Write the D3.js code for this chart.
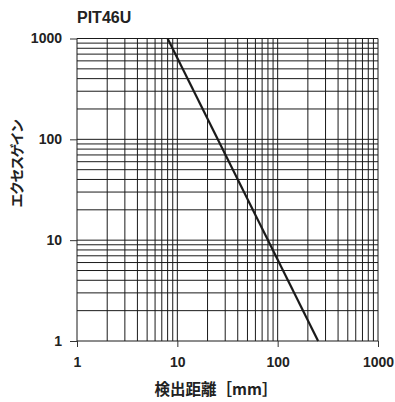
<!DOCTYPE html>
<html>
<head>
<meta charset="utf-8">
<script src="https://cdn.jsdelivr.net/npm/d3@7"></script>
<style>
  body { margin: 0; background: #fff; }
  text { font-family: "Liberation Sans", Arial, sans-serif; fill: #222; }
  .jp { font-family: "Noto Sans CJK JP", sans-serif; }
</style>
</head>
<body>
<svg width="395" height="402"></svg>
<script>
// chart data
var title = "PIT46U";
var xLabel = "検出距離［mm］";
var yLabel = "エクセスゲイン";
var majorTicks = [1, 10, 100, 1000];
var distance = [8, 253];      // mm
var excessGain = [1000, 1];

var svg = d3.select("svg");
var plotLeft = 77, plotRight = 378, plotTop = 38.5, plotBottom = 341;

var x = d3.scaleLog().domain([1, 1000]).range([plotLeft, plotRight]);
var y = d3.scaleLog().domain([1, 1000]).range([plotBottom, plotTop]);

// grid values 1..9 in each decade
var gridVals = [];
for (var d = 1; d < 1000; d *= 10) {
  for (var k = 1; k < 10; k++) gridVals.push(d * k);
}
gridVals.push(1000);

var grid = svg.append("g").attr("stroke", "#1a1a1a").attr("stroke-width", 1);

grid.selectAll("line.v")
  .data(gridVals)
  .enter().append("line")
    .attr("class", "v")
    .attr("x1", function(v) { return x(v); })
    .attr("x2", function(v) { return x(v); })
    .attr("y1", plotTop)
    .attr("y2", plotBottom);

grid.selectAll("line.h")
  .data(gridVals)
  .enter().append("line")
    .attr("class", "h")
    .attr("x1", plotLeft)
    .attr("x2", plotRight)
    .attr("y1", function(v) { return y(v); })
    .attr("y2", function(v) { return y(v); });

// axes with outer ticks only at decades
var xAxis = d3.axisBottom(x).tickValues(majorTicks).tickSize(6).tickPadding(10)
  .tickFormat(d3.format("d"));
var yAxis = d3.axisLeft(y).tickValues(majorTicks).tickSize(7).tickPadding(8)
  .tickFormat(d3.format("d"));

var gx = svg.append("g").attr("transform", "translate(0," + plotBottom + ")").call(xAxis);
var gy = svg.append("g").attr("transform", "translate(" + plotLeft + ",0)").call(yAxis);

[gx, gy].forEach(function(g) {
  g.select(".domain").remove();
  g.selectAll(".tick line").attr("stroke", "#333");
  g.selectAll(".tick text")
    .attr("fill", "#222")
    .style("font-family", "'Liberation Sans', Arial, sans-serif")
    .style("font-size", "14px")
    .style("font-weight", "bold");
});

// curve
var line = d3.line()
  .x(function(d) { return x(d[0]); })
  .y(function(d) { return y(d[1]); });

svg.append("path")
  .datum(d3.zip(distance, excessGain))
  .attr("d", line)
  .attr("fill", "none")
  .attr("stroke", "#1a1a1a")
  .attr("stroke-width", 2.2);

// title and labels
svg.append("text")
  .attr("x", plotLeft)
  .attr("y", 23)
  .style("font-size", "16px")
  .style("font-weight", "bold")
  .text(title);

svg.append("text")
  .attr("class", "jp")
  .attr("x", 216)
  .attr("y", 395)
  .attr("text-anchor", "middle")
  .style("font-size", "15.5px")
  .style("font-weight", "bold")
  .text(xLabel);

svg.append("text")
  .attr("class", "jp")
  .attr("transform", "translate(22,164) rotate(-90)")
  .attr("text-anchor", "middle")
  .style("font-size", "14px")
  .style("letter-spacing", "-1.5px")
  .style("font-weight", "bold")
  .text(yLabel);
</script>
</body>
</html>
